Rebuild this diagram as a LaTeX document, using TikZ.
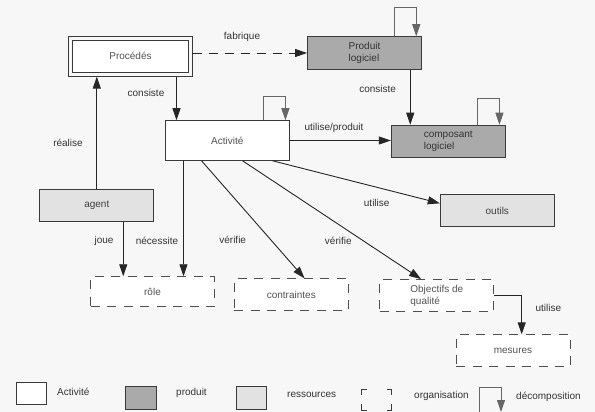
\documentclass[tikz,border=0pt]{standalone}
\usepackage{fontspec}
\setmainfont{Liberation Sans}
\usetikzlibrary{arrows.meta}
\definecolor{fond}{HTML}{F7F7F7}
\definecolor{trait}{HTML}{3A3A3A}
\definecolor{gris}{HTML}{AAAAAA}
\definecolor{clair}{HTML}{E2E2E2}
\definecolor{boucle}{HTML}{666666}
\tikzset{
  boite/.style={draw=trait, line width=0.9pt, fill=white, minimum width=114, minimum height=32, inner sep=1pt, align=left, text=black!68},
  produitbox/.style={boite, fill=gris, text=black!80},
  ressbox/.style={boite, fill=clair, text=black!75},
  orgabox/.style={boite, draw=trait!90, dash pattern=on 9pt off 7.5pt},
  cadre/.style={draw=trait, line width=0.9pt},
  fleche/.style={draw=black!85, line width=0.9pt, -{Triangle[length=12pt,width=8pt]}},
  boucle/.style={draw=boucle, line width=0.9pt, -{Triangle[length=12pt,width=8pt]}},
  lbl/.style={inner sep=1pt, text=black!80}
}
\begin{document}
\begin{tikzpicture}[x=1pt, y=-1pt, font=\fontsize{10}{12}\selectfont]
        \useasboundingbox[fill=fond] (0,0) rectangle (595,412);

        % Noeuds principaux
        \node[boite, minimum width=116.4, minimum height=32.3] (proc) at (130.5,56.2) {Procédés};
        \draw[cadre] ([xshift=-3.5pt,yshift=3.5pt]proc.north west) rectangle ([xshift=3.5pt,yshift=-3.8pt]proc.south east);
        \node[produitbox, minimum height=32.6] (prod) at (364.5,53) {Produit\\logiciel};
        \node[boite, minimum width=123.3, minimum height=39.6] (act) at (227.3,140.5) {Activité};
        \node[produitbox] (comp) at (448.3,141.2) {composant\\logiciel};
        \node[ressbox, minimum height=32.7] (agent) at (96.8,205.3) {agent};
        \node[ressbox] (outils) at (497.3,210.7) {outils};
        \node[orgabox, minimum width=123.6, minimum height=30] (role) at (152.5,291.7) {rôle};
        \node[orgabox] (contr) at (291.3,294.8) {contraintes};
        \node[orgabox] (obj) at (436.8,295.5) {Objectifs de\\qualité};
        \node[orgabox] (mes) at (513,350.8) {mesures};

        % Points d'accroche
        \coordinate (acttop) at ([xshift=11.3]act.north west);
        \coordinate (comptop) at ([xshift=19.4]comp.north west);
        \coordinate (mestop) at ([xshift=8.7]mes.north);
        \coordinate (actnec) at ([xshift=18.3]act.south west);
        \coordinate (agentbas) at ([xshift=-31]agent.south east);
        \coordinate (procbas) at ([yshift=-3.8pt]proc.south);
        \coordinate (procdroit) at ([xshift=3.5pt]proc.east);

        % Relations
        \draw[fleche, dashed, dash pattern=on 9pt off 7pt] (procdroit |- prod.west) -- (prod.west);
        \draw[fleche] (procbas -| acttop) -- (acttop);
        \draw[fleche] (agent.north) -- (agent.north |- procbas);
        \draw[fleche] (prod.south -| comptop) -- (comptop);
        \draw[fleche] (act.east) -- (act.east -| comp.west);
        \draw[fleche] ([xshift=-17]act.south east) -- ([yshift=7.4]outils.west);
        \draw[fleche] ([xshift=36.3]act.south west) -- ([xshift=70.7]contr.north west);
        \draw[fleche] ([xshift=77.3]act.south west) -- ([xshift=41.7]obj.north west);
        \draw[fleche] (actnec) -- (actnec |- role.north);
        \draw[fleche] (agentbas) -- (agentbas |- role.north);
        \draw[fleche] (obj.east) -| (mestop);

        % Decompositions
        \draw[boucle] ([xshift=-25.7]act.north east) -- ++(0,-23.4) -| ([xshift=-4]act.north east);
        \draw[boucle] ([xshift=-28]prod.north east) -- ++(0,-28.4) -| ([xshift=-5.7]prod.north east);
        \draw[boucle] ([xshift=-28.6]comp.north east) -- ++(0,-26.3) -| ([xshift=-6.3]comp.north east);

        % Etiquettes
        \node[lbl] (lfab) at (242,37) {fabrique};
        \node[lbl] (lcons) at (146,93) {consiste};
        \node[lbl] (lreal) at (68,143) {réalise};
        \node[lbl] (lcons2) at (377.7,89) {consiste};
        \node[lbl] (lutp) at (334,128) {utilise/produit};
        \node[lbl] (luti) at (376.7,203.3) {utilise};
        \node[lbl] (ljoue) at (104,241) {joue};
        \node[lbl] (lnec) at (157,241) {nécessite};
        \node[lbl] (lver) at (232.7,240) {vérifie};
        \node[lbl] (lver2) at (338.3,241) {vérifie};
        \node[lbl] (luti2) at (548.3,308.3) {utilise};

        % Legende
        \node[boite, minimum width=30.7, minimum height=21.6] (legact) at (31.3,393.5) {};
        \node[lbl, anchor=west] (legactt) at (56,391.7) {Activité};
        \node[produitbox, minimum width=30.6, minimum height=22.6] (legprod) at (141,398) {};
        \node[lbl, anchor=west] (legprodt) at (175,392.7) {produit};
        \node[ressbox, minimum width=30.4, minimum height=22.6] (legress) at (251.5,398) {};
        \node[lbl, anchor=west] (legresst) at (286,395) {ressources};
        \coordinate (orgnw) at (361.7,389);
        \coordinate (orgse) at (391.7,410);
        \draw[cadre] (orgnw) ++(0,6) |- ++(5,-6)
              (orgnw -| orgse) ++(-5,0) -| ++(5,6)
              (orgse) ++(0,-6) |- ++(-5,6)
              (orgnw |- orgse) ++(5,0) -| ++(-5,-6);
        \node[lbl, anchor=west] (legorgt) at (413,396) {organisation};
        \coordinate (decbas) at (479.3,412);
        \draw[boucle] (decbas) |- (501,387.3) -- (501,412);
        \node[lbl, anchor=west] (legdect) at (515,397) {décomposition};
\end{tikzpicture}
\end{document}
